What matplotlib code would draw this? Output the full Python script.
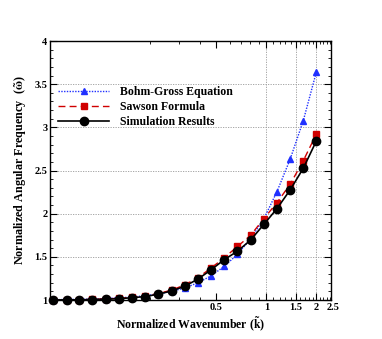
import matplotlib
matplotlib.use("Agg")
import matplotlib.pyplot as plt
import matplotlib.transforms as mtransforms
from matplotlib.ticker import FixedLocator, NullFormatter, FixedFormatter

k = [0.052, 0.063, 0.075, 0.090, 0.108, 0.130, 0.156, 0.187, 0.224, 0.269, 0.323,
     0.388, 0.465, 0.558, 0.670, 0.804, 0.965, 1.157, 1.389, 1.667, 2.0]
sim = [1.001, 1.002, 1.003, 1.005, 1.010, 1.015, 1.027, 1.040, 1.068, 1.105, 1.160,
       1.243, 1.350, 1.468, 1.565, 1.695, 1.876, 2.058, 2.275, 2.526, 2.845]
bohm = [1.004, 1.006, 1.008, 1.012, 1.017, 1.025, 1.035, 1.050, 1.070, 1.100, 1.140,
        1.200, 1.280, 1.390, 1.530, 1.710, 1.940, 2.254, 2.630, 3.078, 3.645]
sawson = [1.002, 1.003, 1.005, 1.008, 1.013, 1.020, 1.032, 1.047, 1.075, 1.115, 1.175,
          1.260, 1.370, 1.490, 1.620, 1.750, 1.942, 2.127, 2.340, 2.614, 2.924]

xmajor = [0.5, 1, 1.5, 2]
xlabels = ["0.5", "1", "1.5", "2"]
xextra_label = "2.5"
xminor = [0.2, 0.3, 0.4, 0.6, 0.7, 0.8, 0.9, 1.1, 1.2, 1.3, 1.4, 1.6, 1.7, 1.8, 1.9,
          2.1, 2.2, 2.3, 2.4]
yticks = [1, 1.5, 2, 2.5, 3, 3.5, 4]
ylabels = ["1", "1.5", "2", "2.5", "3", "3.5", "4"]

plt.rcParams['font.family'] = ['Liberation Serif', 'DejaVu Serif']
plt.rcParams['mathtext.fontset'] = 'stix'

fig = plt.figure(figsize=(3.82, 3.39), dpi=100)
ax = fig.add_axes([0.131, 0.115, 0.735, 0.764])
ax.set_xscale('log')
ax.set_xlim(0.05, 2.44)
ax.set_ylim(1, 4)

for yg in [1.5, 2, 2.5, 3, 3.5]:
    ax.axhline(yg, color='#999999', lw=0.6, ls=(0, (1.5, 1.5)), zorder=0)
for xg in [1, 1.5, 2]:
    ax.axvline(xg, color='#999999', lw=0.6, ls=(0, (1.5, 1.5)), zorder=0)

ax.plot(k, bohm, color='#2030ff', ls=(0, (1, 1)), lw=1.0, marker='^', ms=5,
        label='Bohm-Gross Equation', clip_on=False)
ax.plot(k, sawson, color='#d00000', ls=(0, (5, 3)), lw=1.0, marker='s', ms=4.5,
        label='Sawson Formula', clip_on=False)
ax.plot(k, sim, color='black', ls='-', lw=1.2, marker='o', ms=6,
        label='Simulation Results', clip_on=False)

ax.xaxis.set_major_locator(FixedLocator(xmajor))
ax.xaxis.set_major_formatter(FixedFormatter(xlabels))
ax.xaxis.set_minor_locator(FixedLocator(xminor))
ax.xaxis.set_minor_formatter(NullFormatter())
ax.set_yticks(yticks)
ax.set_yticklabels(ylabels)
ax.yaxis.set_minor_locator(FixedLocator([1 + 0.1 * i for i in range(31)]))

ax.tick_params(which='both', direction='in', top=True, right=True, labelsize=7.5, pad=2)
ax.tick_params(which='major', length=5, width=0.8)
ax.tick_params(which='minor', length=2.5, width=0.6)
for lab in ax.get_xticklabels() + ax.get_yticklabels():
    lab.set_fontweight('bold')
for s in ax.spines.values():
    s.set_linewidth(1.0)

trans = mtransforms.blended_transform_factory(ax.transData, ax.transAxes)
ax.text(2.5, -0.013, xextra_label, transform=trans, ha='center', va='top',
        fontsize=7.5, fontweight='bold', clip_on=False)

ax.set_xlabel(r'Normalized Wavenumber ($\mathbf{\tilde{k}}$)', fontsize=8.5,
              fontweight='bold', labelpad=2)
ax.set_ylabel(r'Normalized Angular Frequency  ($\mathbf{\tilde{\omega}}$)', fontsize=8.7,
              fontweight='bold', labelpad=4)

leg = ax.legend(loc='upper left', bbox_to_anchor=(0.0, 0.857), frameon=False,
                handlelength=4.3, prop={'weight': 'bold', 'size': 8.5},
                labelspacing=0.25, borderaxespad=0.3, handletextpad=0.9)

fig.savefig('out.png', dpi=100)
